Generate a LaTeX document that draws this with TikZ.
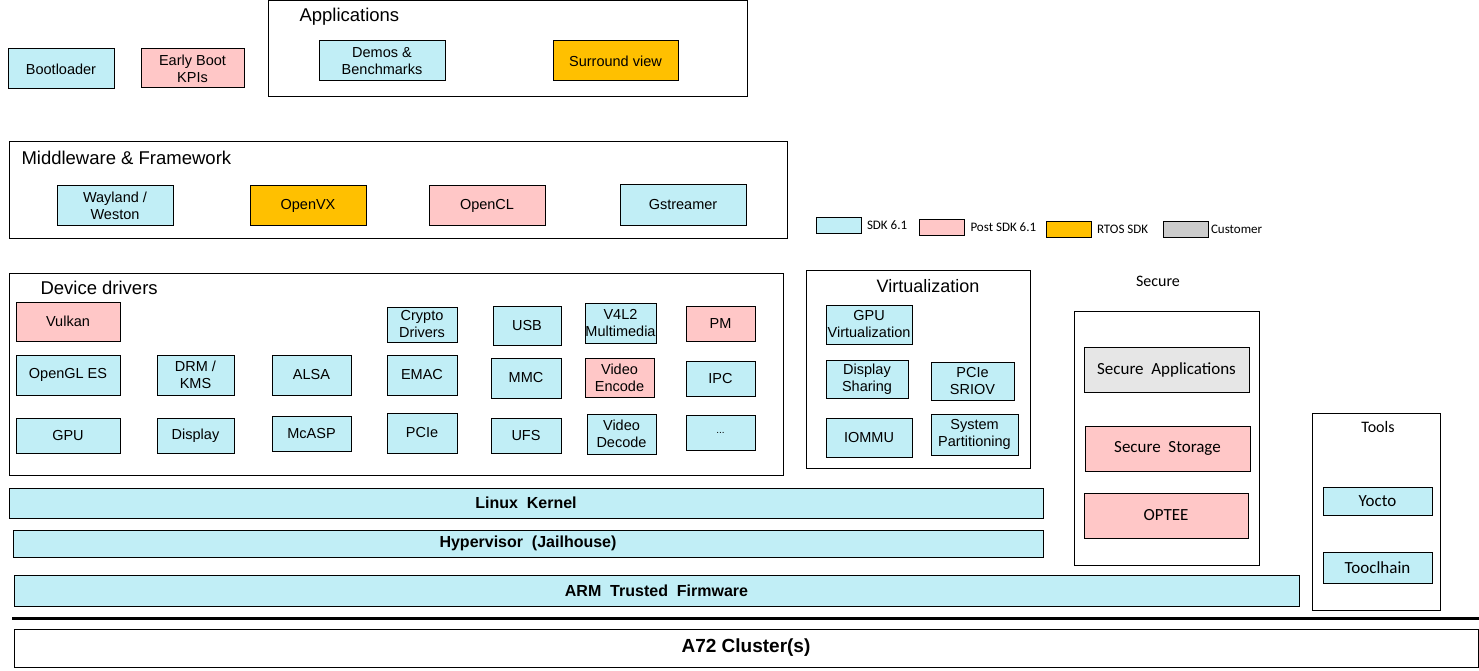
\documentclass[tikz,border=0pt]{standalone}
\usepackage{fontspec}
\setmainfont{Liberation Sans}
\newfontfamily\calibri{Carlito}
\usetikzlibrary{positioning}
\definecolor{sdk}{RGB}{193,238,246}
\definecolor{post}{RGB}{255,199,199}
\definecolor{rtos}{RGB}{255,192,0}
\definecolor{cust}{RGB}{204,204,204}
\definecolor{secgray}{RGB}{230,230,230}

\begin{document}
\begin{tikzpicture}[x=1pt,y=-1pt,line width=1pt,
  sz/.style 2 args={minimum width=#1, minimum height=#2},
  blk/.style={draw, fill=sdk, inner sep=0pt, align=center, font=\fontsize{14.5}{17}\selectfont},
  frame/.style={draw, inner sep=0pt},
  title/.style={font=\fontsize{18.5}{22}\selectfont, inner sep=0pt},
  bar/.style={draw, fill=sdk, inner sep=0pt, font=\bfseries\fontsize{16}{19}\selectfont},
  key/.style={draw, sz={45}{16}, inner sep=0pt},
  keytxt/.style={font=\calibri\fontsize{13}{15}\selectfont, inner sep=0pt},
  cal/.style={font=\calibri\fontsize{16}{19}\selectfont, inner sep=0pt},
  calbox/.style={font=\calibri\fontsize{17}{20}\selectfont}]
\useasboundingbox (0,0) rectangle (1479,671);

\node[blk, sz={106}{40}] (boot) at (61,69) {Bootloader};
\node[blk, sz={103}{39}, fill=post] (kpi) at (192.5,68.5) {Early Boot\\ KPIs};

\node[frame, sz={479}{96}] (apps) at (507.5,49) {};
\node[title, anchor=west] (tapps) at (299,17) {Applications};
\node[blk, sz={126}{40}] (demos) at (382,61) {Demos \&\\Benchmarks};
\node[blk, sz={125}{40}, fill=rtos] (surround) at (615.5,61) {Surround view};

\node[frame, sz={778}{96}] (mw) at (398,190) {};
\node[title, anchor=west] (tmw) at (21,158) {Middleware \& Framework};
\node[blk, sz={116}{39}] (wayland) at (115,205.5) {Wayland /\\Weston};
\node[blk, sz={116}{39}, fill=rtos] (openvx) at (308,205.5) {OpenVX};
\node[blk, sz={116}{39}, fill=post] (opencl) at (487,205.5) {OpenCL};
\node[blk, sz={126}{40}] (gst) at (683,205) {Gstreamer};

\node[key, fill=sdk] (ksdk) at (838.5,225) {};
\node[keytxt, right=5pt of ksdk] (tsdk) {SDK 6.1};
\node[key, fill=post] (kpost) at (942,227) {};
\node[keytxt, right=5pt of kpost] (tpost) {Post SDK 6.1};
\node[key, fill=rtos] (krtos) at (1068.5,229) {};
\node[keytxt, right=5pt of krtos] (trtos) {RTOS SDK};
\node[key, fill=cust] (kcust) at (1185.5,229) {};
\node[keytxt, right=2pt of kcust] (tcust) {Customer};

\node[frame, sz={774}{202}] (dd) at (396,374) {};
\node[title, anchor=west] (tdd) at (40,288) {Device drivers};
\node[blk, sz={104}{39}, fill=post] (vulkan) at (68,321.5) {Vulkan};
\node[blk, sz={70}{35}] (crypto) at (422,324.5) {Crypto\\Drivers};
\node[blk, sz={68}{39}] (usb) at (527,325.5) {USB};
\node[blk, sz={71}{40}] (v4l2) at (620.5,323) {V4L2\\Multimedia};
\node[blk, sz={69}{35}, fill=post] (pm) at (720.5,323.5) {PM};
\node[blk, sz={104}{40}] (ogl) at (68,375) {OpenGL ES};
\node[blk, sz={77}{40}] (drm) at (195.5,375) {DRM /\\KMS};
\node[blk, sz={79}{40}] (alsa) at (311.5,375) {ALSA};
\node[blk, sz={70}{40}] (emac) at (422,375) {EMAC};
\node[blk, sz={70}{40}] (mmc) at (526,378) {MMC};
\node[blk, sz={69}{39}, fill=post] (venc) at (619.5,377.5) {Video\\Encode};
\node[blk, sz={69}{35}] (ipc) at (720.5,378.5) {IPC};
\node[blk, sz={104}{35}] (gpu) at (68,435.5) {GPU};
\node[blk, sz={77}{35}] (disp) at (195.5,435.5) {Display};
\node[blk, sz={79}{35}] (mcasp) at (311.5,433.5) {McASP};
\node[blk, sz={70}{40}] (pcie) at (422,433) {PCIe};
\node[blk, sz={70}{35}] (ufs) at (526,435.5) {UFS};
\node[blk, sz={69}{40}] (vdec) at (621.5,434) {Video\\Decode};
\node[blk, sz={69}{35}, font=\fontsize{10}{12}\selectfont] (more) at (720.5,432.5) {...};

\node[frame, sz={224}{198}] (virt) at (918,369) {};
\node[title, font=\fontsize{18}{22}\selectfont] (tvirt) at (928,286) {Virtualization};
\node[blk, sz={86}{39}] (gpuv) at (869,324.5) {GPU\\Virtualization};
\node[blk, sz={82}{38}] (dshare) at (867,379) {Display\\Sharing};
\node[blk, sz={83}{38}] (sriov) at (972.5,381) {PCIe\\SRIOV};
\node[blk, sz={86}{39}] (iommu) at (869,437.5) {IOMMU};
\node[blk, sz={87}{41}] (syspart) at (974.5,434.5) {System\\Partitioning};

\node[cal] (tsec) at (1158,281) {Secure};
\node[frame, sz={185}{254}] (sec) at (1166.5,438) {};
\node[blk, calbox, sz={165}{45}, fill=secgray] (secapp) at (1166.5,369.5) {Secure\ \ Applications};
\node[blk, calbox, sz={165}{45}, fill=post] (secsto) at (1167.5,448.5) {Secure\ \ Storage};
\node[blk, calbox, sz={164}{45}, fill=post] (optee) at (1166,515.5) {OPTEE};

\node[frame, sz={128}{197}] (tools) at (1376,511.5) {};
\node[cal] (ttools) at (1378,427) {Tools};
\node[blk, calbox, sz={109}{28}] (yocto) at (1377.5,501) {Yocto};
\node[blk, calbox, sz={109}{31}] (tchain) at (1377.5,567.5) {Tooclhain};

\node[bar, sz={1034}{30}] (linux) at (526,503) {Linux\ \ Kernel};
\node[bar, sz={1030}{27}] (hyp) at (528,543.5) {Hypervisor\ \ (Jailhouse)};
\node[bar, sz={1285}{31}] (atf) at (656.5,590.5) {ARM\ \ Trusted\ \ Firmware};

\coordinate (sepl) at (12,618);
\coordinate (sepr) at (1479,618);
\draw[line width=3pt] (sepl) -- (sepr);

\node[frame, sz={1464}{38}, font=\bfseries\fontsize{19}{22}\selectfont] (a72) at (746,648) {A72 Cluster(s)};
\end{tikzpicture}
\end{document}
